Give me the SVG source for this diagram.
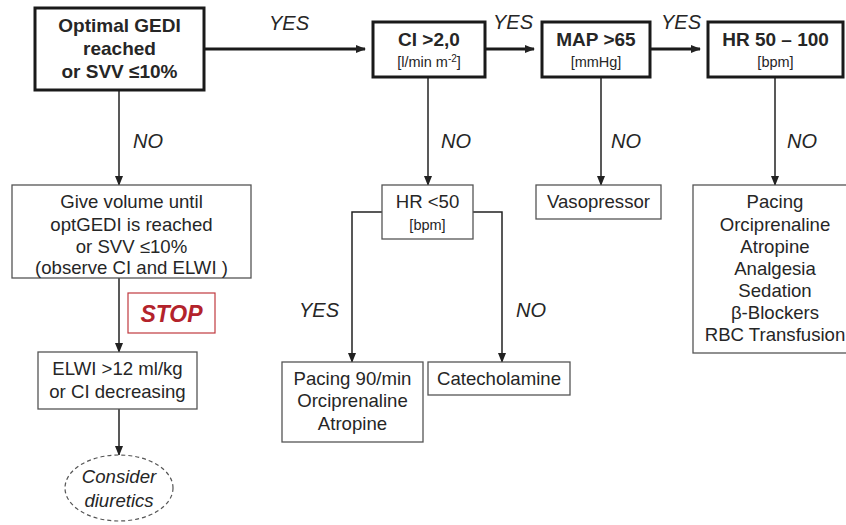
<svg xmlns="http://www.w3.org/2000/svg" width="846" height="525" viewBox="0 0 846 525">
<defs>
<marker id="ah" markerWidth="10" markerHeight="8" refX="9" refY="4" orient="auto" markerUnits="userSpaceOnUse">
<path d="M0,0 L10,4 L0,8 Z" fill="#222"/>
</marker>
</defs>
<style>
text{font-family:"Liberation Sans",Arial,sans-serif;fill:#262626;text-anchor:middle}
.thick{fill:#fff;stroke:#1a1a1a;stroke-width:3}
.thin{fill:#fff;stroke:#555;stroke-width:1.3}
.b{font-weight:bold;font-size:19px}
.r{font-size:18.6px}
.s{font-size:14.5px}
.lab{font-size:20px;font-style:italic}
.c{fill:none;stroke:#222;stroke-width:1.5}
.ct{fill:none;stroke:#1a1a1a;stroke-width:3}
</style>
<g id="connectors">
<path class="ct" d="M204,49 H365" marker-end="url(#ah)"/>
<path class="ct" d="M485,49 H534" marker-end="url(#ah)"/>
<path class="ct" d="M650,49 H700" marker-end="url(#ah)"/>
<path class="c" d="M119,90 V185" marker-end="url(#ah)"/>
<path class="c" d="M428,77 V185" marker-end="url(#ah)"/>
<path class="c" d="M601,77 V185" marker-end="url(#ah)"/>
<path class="c" d="M775,77 V185" marker-end="url(#ah)"/>
<path class="c" d="M382,212 H352 V362" marker-end="url(#ah)"/>
<path class="c" d="M473,212 H502 V362" marker-end="url(#ah)"/>
<path class="c" d="M119,278 V352" marker-end="url(#ah)"/>
<path class="c" d="M119,409 V455" marker-end="url(#ah)"/>
</g>
<g id="labels">
<text class="lab" x="289" y="30">YES</text>
<text class="lab" x="513" y="29">YES</text>
<text class="lab" x="681" y="29">YES</text>
<text class="lab" x="148" y="148">NO</text>
<text class="lab" x="456" y="148">NO</text>
<text class="lab" x="626" y="148">NO</text>
<text class="lab" x="802" y="148">NO</text>
<text class="lab" x="319" y="317">YES</text>
<text class="lab" x="531" y="317">NO</text>
</g>
<g id="n-gedi">
<rect class="thick" x="35" y="8" width="169" height="82"/>
<text class="b" x="119.5" y="32">Optimal GEDI</text>
<text class="b" x="119.5" y="55">reached</text>
<text class="b" x="119.5" y="78">or SVV ≤10%</text>
</g>
<g id="n-ci">
<rect class="thick" x="373" y="22" width="112" height="55"/>
<text class="b" x="429" y="46">CI &gt;2,0</text>
<text class="s" x="429" y="67">[l/min m<tspan dy="-5" font-size="10">-2</tspan><tspan dy="5">]</tspan></text>
</g>
<g id="n-map">
<rect class="thick" x="542" y="22" width="108" height="55"/>
<text class="b" x="596" y="46">MAP &gt;65</text>
<text class="s" x="596" y="67">[mmHg]</text>
</g>
<g id="n-hr">
<rect class="thick" x="708" y="22" width="135" height="55"/>
<text class="b" x="775.5" y="46">HR 50 – 100</text>
<text class="s" x="775.5" y="67">[bpm]</text>
</g>
<g id="n-volume">
<rect class="thin" x="12" y="185" width="239" height="93"/>
<text class="r" x="131.5" y="208">Give volume until</text>
<text class="r" x="131.5" y="231">optGEDI is reached</text>
<text class="r" x="131.5" y="253">or SVV ≤10%</text>
<text class="r" x="131.5" y="274">(observe CI and ELWI )</text>
</g>
<g id="n-stop">
<rect x="128" y="293" width="87" height="40" fill="#fff" stroke="#c0393f" stroke-width="1.2"/>
<text x="171.5" y="322" style="font-size:23px;font-weight:bold;font-style:italic;fill:#b3232b">STOP</text>
</g>
<g id="n-elwi">
<rect class="thin" x="38" y="352" width="159" height="57"/>
<text class="r" x="117.5" y="375">ELWI &gt;12 ml/kg</text>
<text class="r" x="117.5" y="398">or CI decreasing</text>
</g>
<g id="n-diuretics">
<ellipse cx="119" cy="488" rx="54" ry="33" fill="#fff" stroke="#555" stroke-width="1.2" stroke-dasharray="4,3"/>
<text class="r" x="119" y="483" font-style="italic">Consider</text>
<text class="r" x="119" y="507" font-style="italic">diuretics</text>
</g>
<g id="n-hr50">
<rect class="thin" x="382" y="185" width="91" height="54"/>
<text class="r" x="427.5" y="208">HR &lt;50</text>
<text class="s" x="427.5" y="230">[bpm]</text>
</g>
<g id="n-pacing">
<rect class="thin" x="282" y="362" width="141" height="80"/>
<text class="r" x="352.5" y="385">Pacing 90/min</text>
<text class="r" x="352.5" y="407">Orciprenaline</text>
<text class="r" x="352.5" y="430">Atropine</text>
</g>
<g id="n-catecholamine">
<rect class="thin" x="428" y="362" width="142" height="33"/>
<text class="r" x="499" y="385">Catecholamine</text>
</g>
<g id="n-vasopressor">
<rect class="thin" x="536" y="185" width="125" height="34"/>
<text class="r" x="598.5" y="208">Vasopressor</text>
</g>
<g id="n-therapy">
<rect class="thin" x="693" y="185" width="160" height="168"/>
<text class="r" x="775" y="208">Pacing</text>
<text class="r" x="775" y="231">Orciprenaline</text>
<text class="r" x="775" y="253">Atropine</text>
<text class="r" x="775" y="275">Analgesia</text>
<text class="r" x="775" y="297">Sedation</text>
<text class="r" x="775" y="319">β-Blockers</text>
<text class="r" x="775" y="341">RBC Transfusion</text>
</g>
</svg>
